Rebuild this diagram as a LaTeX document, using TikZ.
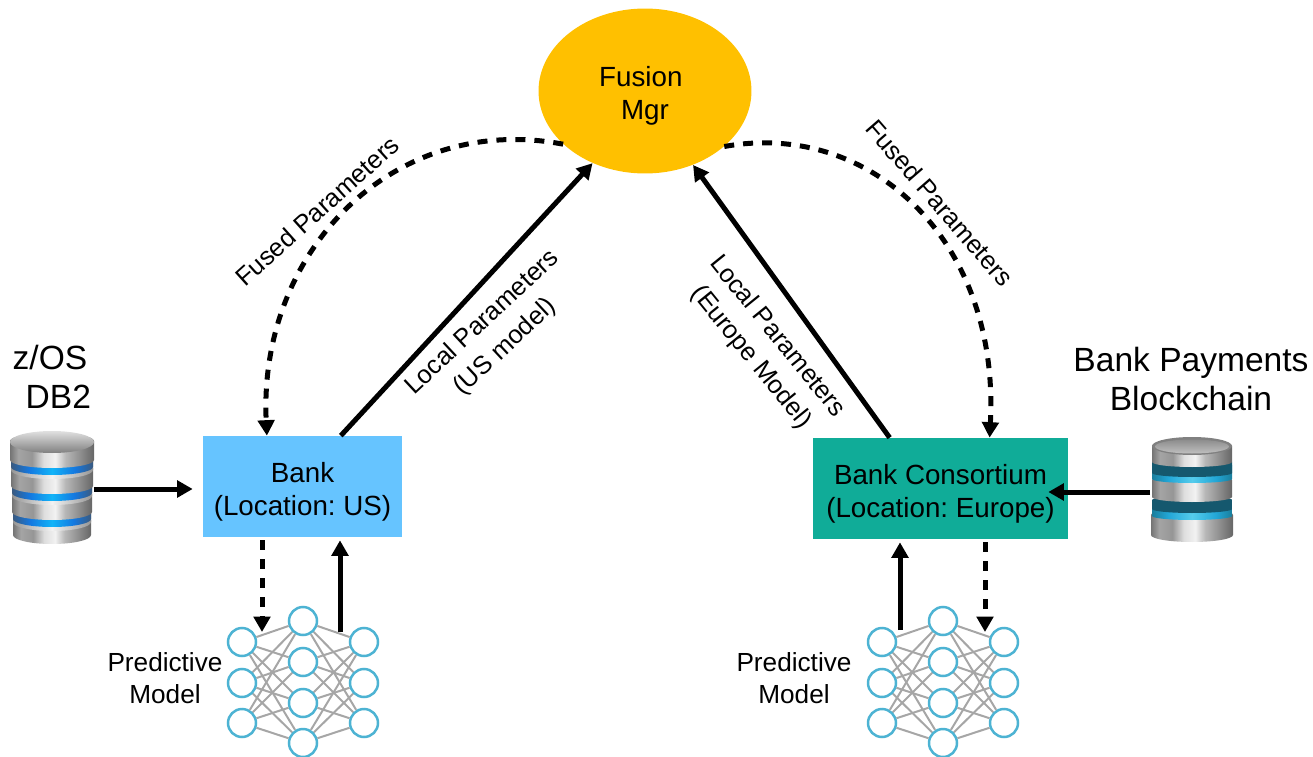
\documentclass[tikz,border=0pt]{standalone}
\usepackage{fontspec}
\setmainfont{Liberation Sans}
\usetikzlibrary{arrows.meta,shapes.geometric}

\definecolor{bankblue}{HTML}{66C4FF}
\definecolor{bankteal}{HTML}{10AC98}
\definecolor{fusionyellow}{HTML}{FFC000}
\definecolor{netblue}{HTML}{4DB3D3}
\definecolor{netgray}{HTML}{A6A6A6}
\definecolor{mtA}{HTML}{747474}
\definecolor{mtB}{HTML}{A4A4A4}
\definecolor{mtC}{HTML}{969696}
\definecolor{mtD}{HTML}{DEDEDE}
\definecolor{mtE}{HTML}{F2F2F2}
\definecolor{mtF}{HTML}{B8B8B8}
\definecolor{mtG}{HTML}{929292}
\definecolor{mtH}{HTML}{666666}
\definecolor{blA}{HTML}{3A5A80}
\definecolor{blB}{HTML}{1478E0}
\definecolor{blC}{HTML}{12B4F8}
\definecolor{cyA}{HTML}{1A7E9C}
\definecolor{cyB}{HTML}{22A6D6}
\definecolor{cyC}{HTML}{55CCEC}
\definecolor{tealdark}{HTML}{15586E}

\pgfdeclarehorizontalshading{metal}{100bp}{color(0bp)=(mtA);color(25bp)=(mtA);color(30bp)=(mtB);color(38bp)=(mtC);color(45bp)=(mtD);color(52bp)=(mtE);color(58bp)=(mtF);color(66bp)=(mtG);color(75bp)=(mtH);color(100bp)=(mtH)}
\pgfdeclarehorizontalshading{bandblue}{100bp}{color(0bp)=(blA);color(25bp)=(blA);color(36bp)=(blB);color(50bp)=(blC);color(64bp)=(blB);color(75bp)=(blA);color(100bp)=(blA)}
\pgfdeclarehorizontalshading{bandcyan}{100bp}{color(0bp)=(cyA);color(25bp)=(cyA);color(35bp)=(cyB);color(50bp)=(cyC);color(65bp)=(cyB);color(75bp)=(cyA);color(100bp)=(cyA)}
\pgfdeclarehorizontalshading{banddark}{100bp}{color(0bp)=(tealdark);color(100bp)=(tealdark)}
\pgfdeclarehorizontalshading{lip}{100bp}{color(0bp)=(mtC);color(25bp)=(mtC);color(50bp)=(mtE);color(75bp)=(mtC);color(100bp)=(mtC)}

\tikzset{
  solidarrow/.style={line width=0.1cm,-{Triangle[length=0.31cm,width=0.33cm]}},
  dashedarrow/.style={line width=0.1cm,dash pattern=on 0.2cm off 0.18cm,-{Triangle[length=0.31cm,width=0.33cm]}},
  bankbox/.style={rectangle,align=center,text=black,font=\fontsize{15.8}{18.8}\selectfont},
  fusionnode/.style={ellipse,fill=fusionyellow,align=center,inner sep=0,font=\fontsize{15.8}{18.8}\selectfont},
  smalllabel/.style={align=center,font=\fontsize{14.5}{19}\selectfont},
  sidelabel/.style={align=center,font=\fontsize{14.9}{18.2}\selectfont},
  biglabel/.style={align=center,font=\fontsize{19.1}{22.5}\selectfont},
  neuron/.style={circle,draw=netblue,line width=0.05cm,fill=white,minimum size=0.56cm,inner sep=0},
  synapse/.style={draw=netgray,line width=0.04cm},
  dbbox/.style={rectangle,inner sep=0,minimum width=1.66cm,minimum height=2.2cm}
}

% pushes a two line text down in its box
\newcommand{\lowertext}{\rule{0pt}{17pt}}
% one layer of a database: x, top, height, rx, ry, shading
\newcommand{\dblayer}[6]{
  \shade[shading=#6] (#1-#4,#2) -- (#1-#4,#2+#3)
    arc[start angle=180,end angle=0,x radius=#4,y radius=#5] -- (#1+#4,#2)
    arc[start angle=0,end angle=-180,x radius=#4,y radius=#5] -- cycle;
}
% neural net: name, x of the middle column
\newcommand{\neuralnet}[2]{
  \foreach \i/\y in {1/642,2/683,3/723} {
    \node[neuron] (#1l\i) at (#2-61,\y) {};
    \node[neuron] (#1r\i) at (#2+61,\y) {};
  }
  \foreach \i/\y in {1/621,2/662,3/703,4/743} {
    \node[neuron] (#1m\i) at (#2,\y) {};
  }
  \foreach \i in {1,2,3} \foreach \j in {1,2,3,4} {
    \draw[synapse] (#1l\i) -- (#1m\j);
    \draw[synapse] (#1m\j) -- (#1r\i);
  }
}

\begin{document}
\frenchspacing
\begin{tikzpicture}[x=0.02cm,y=-0.02cm]
\useasboundingbox (0,0) rectangle (1313,757);

% boxes
\node[fusionnode,minimum width=4.26cm,minimum height=3.3cm] (fusion) at (645,91) {\lowertext Fusion\hspace*{0.3em}\\Mgr};
\node[bankbox,fill=bankblue,minimum width=3.98cm,minimum height=2.02cm] (bank) at (302.5,486.5) {\lowertext Bank\\(Location: US)};
\node[bankbox,fill=bankteal,minimum width=5.1cm,minimum height=2.02cm] (consortium) at (940.5,488.5) {\lowertext Bank Consortium\\(Location: Europe)};

% left database
\dblayer{52}{520}{15}{39}{9}{metal}
\dblayer{52}{510}{12}{39}{9}{lip}
\dblayer{52}{508}{11}{39}{8}{bandblue}
\dblayer{52}{494}{18}{40}{8}{metal}
\dblayer{52}{484}{12}{40}{9}{lip}
\dblayer{52}{482}{11}{40}{8}{bandblue}
\dblayer{52}{468}{18}{41}{8}{metal}
\dblayer{52}{458}{12}{41}{9}{lip}
\dblayer{52}{456}{11}{41}{8}{bandblue}
\dblayer{52}{441}{19}{42}{8}{metal}
\shade[top color=black!12,bottom color=black!50] (52,442) circle[x radius=42,y radius=11];
\node[dbbox] (dbUS) at (52,489) {};

% right database
\dblayer{1192}{515}{20}{41}{7}{metal}
\dblayer{1192}{503}{13}{40}{4}{bandcyan}
\dblayer{1192}{500}{9}{40}{4}{banddark}
\dblayer{1192}{480}{17}{40}{5}{metal}
\dblayer{1192}{465}{14}{40}{4}{bandcyan}
\dblayer{1192}{462}{11}{40}{4}{banddark}
\dblayer{1192}{446}{16}{40}{5}{metal}
\fill[black!50] (1192,446) circle[x radius=40,y radius=9];
\shade[top color=black!45,bottom color=black!25] (1192,446.5) circle[x radius=37,y radius=7];
\node[dbbox] (dbEU) at (1192,492) {};

% predictive models
\neuralnet{netUS}{303}
\neuralnet{netEU}{943}

\coordinate (usIn) at (262,632);
\coordinate (usOut) at (340,632);
\coordinate (euIn) at (985,632);
\coordinate (euOut) at (900,630);

% arrows
\draw[solidarrow] (bank.53) -- (fusion.234);
\draw[solidarrow] (consortium.135) -- (fusion.-57);
\draw[dashedarrow] (fusion.213) .. controls (395,112) and (258,250) .. (bank.125);
\draw[dashedarrow] (fusion.-35) .. controls (870,120) and (1000,240) .. (consortium.46);
\draw[solidarrow,shorten >=0.2cm] (dbUS.east) -- (dbUS.east -| bank.west);
\draw[solidarrow,shorten >=-0.4cm] (dbEU.west) -- (dbEU.west -| consortium.east);
\draw[dashedarrow,shorten <=0.06cm] (usIn |- bank.south) -- (usIn);
\draw[solidarrow,shorten >=0.06cm] (usOut) -- (usOut |- bank.south);
\draw[dashedarrow,shorten <=0.06cm] (euIn |- consortium.south) -- (euIn);
\draw[solidarrow,shorten >=0.06cm] (euOut) -- (euOut |- consortium.south);

% labels
\node[smalllabel,rotate=42] (fusedUS) at (317,211) {Fused Parameters};
\node[smalllabel,rotate=-49] (fusedEU) at (940,203) {Fused Parameters};
\node[smalllabel,rotate=43] (localUS) at (494,335) {Local Parameters\\(US model)};
\node[smalllabel,rotate=-51] (localEU) at (764,347) {Local Parameters\\(Europe Model)};
\node[sidelabel] (modelUS) at (165,678) {Predictive\\Model};
\node[sidelabel] (modelEU) at (794,678) {Predictive\\Model};
\node[biglabel] (labelUS) at (50,377) {z/OS\\\hspace*{0.5em}DB2};
\node[biglabel] (labelEU) at (1191,379) {Bank Payments\\Blockchain};
\end{tikzpicture}
\end{document}
